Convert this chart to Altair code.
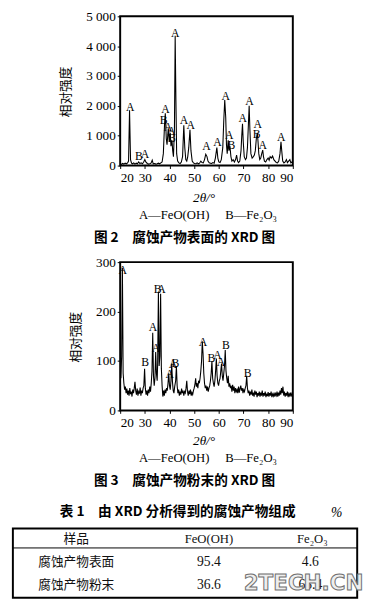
import altair as alt
import pandas as pd

# ---------------- data ----------------
# Fig.2 : XRD of corrosion-product surface  (2theta, intensity)
surface_pattern = [
    (20.0, 60), (20.5, 40), (21.0, 70), (21.5, 50), (22.0, 80), (22.5, 60), (23.0, 90),
    (23.4, 150), (23.8, 1850), (24.2, 200), (24.6, 80), (25.0, 60), (25.5, 90), (26.0, 50),
    (26.5, 80), (27.0, 60), (27.5, 120), (28.0, 70), (28.5, 90), (29.0, 60), (29.5, 110),
    (30.0, 200), (30.4, 120), (31.0, 70), (31.5, 50), (32.0, 60), (32.5, 80), (33.0, 180),
    (33.4, 60), (34.0, 70), (34.5, 50), (35.0, 60), (35.5, 80), (36.0, 60), (36.5, 90),
    (37.0, 120), (37.5, 400), (38.0, 1400), (38.3, 1750), (38.7, 900), (39.0, 700),
    (39.5, 1250), (39.9, 800), (40.3, 1100), (40.6, 650), (41.0, 850), (41.3, 500),
    (41.6, 300), (42.0, 1200), (42.3, 4350), (42.6, 2200), (42.9, 400), (43.3, 150),
    (43.8, 90), (44.3, 70), (44.8, 120), (45.3, 300), (45.8, 1350), (46.2, 600), (46.6, 200),
    (47.0, 150), (47.4, 300), (47.8, 600), (48.3, 1200), (48.7, 500), (49.2, 150), (49.7, 90),
    (50.2, 70), (50.7, 60), (51.2, 90), (51.7, 60), (52.2, 80), (52.7, 150), (53.2, 100),
    (53.7, 90), (54.2, 200), (54.7, 380), (55.2, 300), (55.6, 150), (56.1, 90), (56.6, 80),
    (57.1, 70), (57.6, 100), (58.1, 80), (58.6, 250), (59.2, 600), (59.6, 250), (60.0, 120),
    (60.5, 100), (61.0, 200), (61.6, 600), (62.0, 1500), (62.4, 2200), (62.8, 1600),
    (63.1, 700), (63.4, 400), (63.8, 850), (64.1, 500), (64.5, 650), (64.9, 300), (65.3, 150),
    (65.8, 200), (66.3, 120), (66.8, 200), (67.2, 350), (67.6, 150), (68.0, 100), (68.5, 150),
    (69.0, 500), (69.3, 1000), (69.6, 1400), (69.9, 800), (70.3, 300), (70.8, 200),
    (71.2, 250), (71.6, 600), (72.0, 1400), (72.3, 2000), (72.6, 1200), (73.0, 400),
    (73.5, 250), (74.0, 300), (74.4, 350), (74.8, 500), (75.2, 900), (75.6, 1100),
    (75.9, 800), (76.2, 400), (76.6, 200), (77.0, 250), (77.4, 400), (77.8, 520), (78.1, 300),
    (78.5, 150), (79.0, 120), (79.5, 200), (80.0, 250), (80.4, 180), (80.8, 300), (81.3, 250),
    (81.8, 320), (82.3, 200), (82.8, 150), (83.3, 100), (83.8, 90), (84.3, 150), (84.8, 400),
    (85.2, 800), (85.5, 500), (85.9, 150), (86.4, 90), (86.9, 120), (87.4, 200), (87.8, 100),
    (88.3, 150), (88.8, 200), (89.2, 90), (89.6, 120), (90.0, 80),
]
surface_labels = [
    (24.1, 1960, "A"), (27.6, 330, "B"), (30.1, 380, "A"), (38.4, 1880, "A"), (37.6, 1520, "B"),
    (39.4, 1300, "A"), (40.8, 1170, "A"), (41.0, 920, "B"), (42.3, 4430, "A"), (45.9, 1540, "A"),
    (48.6, 1360, "A"), (55.0, 650, "A"), (59.4, 790, "A"), (62.8, 2340, "A"), (64.2, 1030, "A"),
    (65.1, 700, "B"), (69.7, 1580, "A"), (72.4, 2150, "A"), (75.8, 1380, "A"), (75.3, 1070, "B"),
    (77.8, 680, "A"), (85.3, 950, "A"),
]

# Fig.3 : XRD of corrosion-product powder  (2theta, intensity)
powder_pattern = [
    (20.0, 92), (20.3, 65), (20.6, 110), (20.9, 288), (21.2, 75), (21.5, 55), (21.8, 42),
    (22.1, 48), (22.4, 35), (22.7, 44), (23.0, 32), (23.3, 40), (23.6, 30), (23.9, 45),
    (24.2, 33), (24.5, 38), (24.8, 28), (25.1, 42), (25.4, 35), (25.7, 45), (26.0, 58),
    (26.3, 40), (26.6, 32), (26.9, 44), (27.2, 30), (27.5, 38), (27.8, 34), (28.1, 46),
    (28.4, 30), (28.7, 40), (29.0, 35), (29.3, 45), (29.6, 50), (29.9, 84), (30.2, 45),
    (30.5, 32), (30.8, 40), (31.1, 30), (31.4, 42), (31.7, 35), (32.0, 48), (32.3, 38),
    (32.6, 55), (32.9, 80), (33.2, 157), (33.5, 70), (33.8, 50), (34.1, 65), (34.4, 118),
    (34.7, 75), (35.0, 60), (35.2, 95), (35.5, 240), (35.8, 90), (36.1, 110), (36.4, 236),
    (36.7, 85), (37.0, 50), (37.3, 28), (37.6, 40), (37.9, 30), (38.2, 42), (38.5, 35),
    (38.8, 45), (39.1, 40), (39.4, 55), (39.7, 75), (40.0, 50), (40.3, 42), (40.6, 60),
    (40.9, 95), (41.2, 58), (41.5, 40), (41.8, 35), (42.1, 48), (42.5, 60), (42.8, 90),
    (43.1, 50), (43.4, 35), (43.7, 42), (44.0, 30), (44.3, 38), (44.6, 32), (44.9, 44),
    (45.2, 35), (45.5, 40), (45.8, 30), (46.1, 38), (46.4, 35), (46.7, 45), (47.0, 60),
    (47.3, 38), (47.6, 30), (47.9, 40), (48.2, 33), (48.5, 42), (48.8, 30), (49.1, 36),
    (49.4, 32), (49.7, 40), (50.0, 45), (50.3, 52), (50.6, 65), (50.9, 48), (51.2, 55),
    (51.5, 45), (51.8, 60), (52.1, 55), (52.4, 65), (52.7, 80), (53.0, 100), (53.3, 140),
    (53.6, 115), (53.9, 75), (54.2, 55), (54.5, 45), (54.8, 50), (55.1, 40), (55.4, 48),
    (55.7, 38), (56.0, 45), (56.3, 50), (56.6, 60), (56.9, 75), (57.2, 100), (57.5, 65),
    (57.8, 55), (58.1, 48), (58.4, 60), (58.7, 80), (59.0, 105), (59.3, 70), (59.6, 55),
    (59.9, 50), (60.2, 60), (60.5, 65), (60.8, 80), (61.1, 95), (61.4, 70), (61.7, 60),
    (62.0, 75), (62.3, 90), (62.6, 122), (62.9, 80), (63.2, 65), (63.5, 55), (63.8, 70),
    (64.1, 48), (64.4, 55), (64.7, 45), (65.0, 50), (65.3, 38), (65.6, 52), (65.9, 40),
    (66.2, 48), (66.5, 35), (66.8, 45), (67.1, 38), (67.4, 42), (67.7, 35), (68.0, 48),
    (68.3, 36), (68.6, 44), (68.9, 50), (69.2, 40), (69.5, 45), (69.8, 35), (70.1, 42),
    (70.4, 38), (70.7, 45), (71.0, 50), (71.3, 70), (71.6, 45), (71.9, 35), (72.2, 40),
    (72.5, 30), (72.8, 38), (73.1, 32), (73.4, 42), (73.7, 30), (74.0, 36), (74.3, 28),
    (74.6, 40), (74.9, 32), (75.2, 38), (75.5, 27), (75.8, 35), (76.1, 30), (76.4, 38),
    (76.7, 28), (77.0, 36), (77.3, 30), (77.6, 40), (77.9, 28), (78.2, 35), (78.5, 30),
    (78.8, 38), (79.1, 27), (79.4, 34), (79.7, 29), (80.0, 37), (80.3, 28), (80.6, 35),
    (80.9, 30), (81.2, 38), (81.5, 27), (81.8, 33), (82.1, 29), (82.4, 36), (82.7, 28),
    (83.0, 34), (83.3, 30), (83.6, 38), (83.9, 28), (84.2, 36), (84.5, 30), (84.8, 40),
    (85.1, 32), (85.4, 45), (85.7, 35), (86.0, 48), (86.3, 30), (86.6, 38), (86.9, 28),
    (87.2, 35), (87.5, 30), (87.8, 38), (88.1, 27), (88.4, 34), (88.7, 30), (89.0, 36),
    (89.3, 28), (89.6, 34), (90.0, 30),
]
powder_labels = [
    (21.0, 283, "A"), (30.1, 97, "B"), (33.3, 168, "A"), (34.5, 127, "A"), (35.2, 245, "B"),
    (36.7, 245, "A"), (40.1, 74, "A"), (41.4, 93, "A"), (42.4, 96, "B"), (53.6, 138, "A"),
    (57.0, 106, "B"), (59.4, 112, "A"), (60.9, 97, "A"), (62.9, 132, "B"), (71.7, 76, "B"),
]

x_ticks = [20, 30, 40, 50, 60, 70, 80, 90]
surface_y_ticks = [0, 1000, 2000, 3000, 4000, 5000]
powder_y_ticks = [0, 100, 200, 300]

NB = "\u00a0"
legend_text = "A—FeO(OH)" + NB * 5 + "B—Fe₂O₃"
caption_surface = "图 2　腐蚀产物表面的 XRD 图"
caption_powder = "图 3　腐蚀产物粉末的 XRD 图"
y_title = "相对强度"
x_title = "2θ/°"

table_title = "表 1　由 XRD 分析得到的腐蚀产物组成"
table_unit = "%"
table_headers = ["样品", "FeO(OH)", "Fe₂O₃"]
table_samples = ["腐蚀产物表面", "腐蚀产物粉末"]
table_feooh = [95.4, 36.6]
table_fe2o3 = [4.6, 63.4]

SERIF = "Liberation Serif"
CJK = "Noto Sans CJK SC"
W = 177


def one_text(text, x, y, **kw):
    return alt.Chart(pd.DataFrame({"t": [text]})).mark_text(**kw).encode(
        text="t:N", x=alt.value(x), y=alt.value(y)
    )


def axis(values, expr=None):
    kw = dict(values=values, title=None, grid=False, domain=False, tickSize=3,
              tickColor="black", tickWidth=1, labelFont=SERIF, labelFontSize=13.5,
              labelColor="black", labelPadding=2, labelOverlap=False)
    if expr:
        kw["labelExpr"] = expr
    return alt.Axis(**kw)


def xrd_panel(pattern, labels, ymax, yticks, height, ylabel_expr, ytitle_x, y_offsets, caption):
    df = pd.DataFrame(pattern, columns=["tt", "i"])
    ldf = pd.DataFrame(labels, columns=["tt", "i", "t"])
    xs = alt.Scale(domain=[20, 90], nice=False, zero=False)
    ys = alt.Scale(domain=[0, ymax], nice=False)
    xenc = alt.X("tt:Q", scale=xs, axis=axis(x_ticks))
    yenc = alt.Y("i:Q", scale=ys, axis=axis(yticks, ylabel_expr))
    line = alt.Chart(df).mark_line(color="black", strokeWidth=1.1, clip=True).encode(
        x=xenc, y=yenc
    )
    peak_labels = alt.Chart(ldf).mark_text(font=SERIF, fontSize=12, color="black").encode(
        x=xenc, y=yenc, text="t:N"
    )
    ytitle = one_text(y_title, ytitle_x, height / 2 + 1, font=CJK, fontSize=13,
                      color="black", angle=270, baseline="middle", align="center")
    xtitle = one_text(x_title, 86, y_offsets[0], font=SERIF, fontSize=13.5,
                      fontStyle="italic", color="black", baseline="middle", align="center")
    leg = one_text(legend_text, 90, y_offsets[1], font=SERIF, fontSize=13,
                   color="black", baseline="middle", align="center")
    cap = one_text(caption, 66, y_offsets[2], font=CJK, fontSize=14, fontWeight="bold",
                   color="black", baseline="middle", align="center")
    return alt.layer(line, peak_labels, ytitle, xtitle, leg, cap).properties(
        width=W, height=height
    )


chart1 = xrd_panel(surface_pattern, surface_labels, 5000, surface_y_ticks, 153,
                   "replace(format(datum.value, ','), ',', ' ')", -55, (186, 204, 227),
                   caption_surface)
chart2 = xrd_panel(powder_pattern, powder_labels, 300, powder_y_ticks, 152,
                   None, -45, (183, 201, 224), caption_powder)

# ---------------- table ----------------
TL, TR = -110, 243
box = alt.Chart(pd.DataFrame({"a": [0]})).mark_rect(
    fillOpacity=0, stroke="black", strokeWidth=2
).encode(x=alt.value(TL), x2=alt.value(TR), y=alt.value(22), y2=alt.value(93))
sep = alt.Chart(pd.DataFrame({"a": [0]})).mark_rule(color="black", strokeWidth=1).encode(
    x=alt.value(TL), x2=alt.value(TR), y=alt.value(42)
)
ttl = one_text(table_title, -62, 5, font=CJK, fontSize=14, fontWeight="bold",
               color="black", align="left", baseline="middle")
unit = one_text(table_unit, 222, 6, font=SERIF, fontSize=14, fontStyle="italic",
                color="black", align="center", baseline="middle")
col_x = [-45, 91, 197]
headers = alt.layer(*[
    one_text(h, x, 33, font=(CJK if i == 0 else SERIF), fontSize=13, color="#111",
             align="center", baseline="middle")
    for i, (h, x) in enumerate(zip(table_headers, col_x))
])
rows_df = pd.DataFrame({"s": table_samples, "a": table_feooh, "b": table_fe2o3})
row_scale = alt.Scale(type="point", domain=table_samples, range=[57, 80], padding=0)
c_samp = alt.Chart(rows_df).mark_text(font=CJK, fontSize=13, color="#111").encode(
    x=alt.value(col_x[0]), y=alt.Y("s:N", scale=row_scale, axis=None), text="s:N"
)
c_a = alt.Chart(rows_df).mark_text(font=SERIF, fontSize=14, color="#111").encode(
    x=alt.value(col_x[1]), y=alt.Y("s:N", scale=row_scale, axis=None),
    text=alt.Text("a:Q", format=".1f")
)
c_b = alt.Chart(rows_df).mark_text(font=SERIF, fontSize=14, color="#111").encode(
    x=alt.value(col_x[2] - 2), y=alt.Y("s:N", scale=row_scale, axis=None),
    text=alt.Text("b:Q", format=".1f")
)
watermark = one_text("2TECH.CN", 188, 78, font="DejaVu Sans", fontSize=22,
                     fontWeight="bold", fill="#eeeeee", stroke="#6f6f6f",
                     strokeWidth=1, align="center", baseline="middle")
table = alt.layer(box, sep, ttl, unit, headers, c_samp, c_a, c_b, watermark).properties(
    width=W, height=93, view=alt.ViewBackground(stroke="transparent")
)

chart = alt.vconcat(chart1, chart2, table, spacing=99, bounds="flush").properties(
    padding={"left": 3, "top": -7, "right": 0, "bottom": 0}, background="white"
).configure_view(stroke="black", strokeWidth=2)

chart.save("out.html", embed_options={"renderer": "svg", "actions": False})
